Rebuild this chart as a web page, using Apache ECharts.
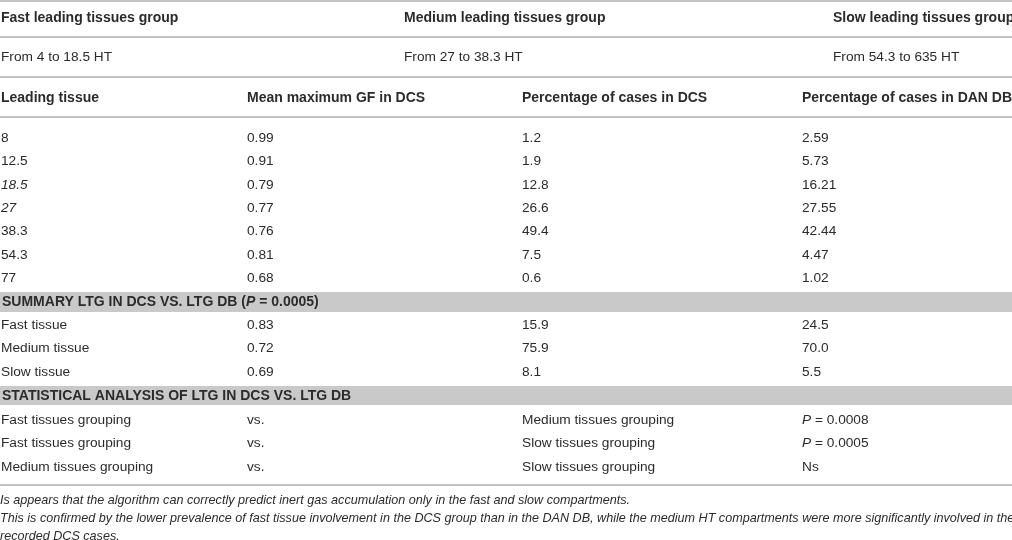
<!DOCTYPE html>
<html>
<head>
<meta charset="UTF-8">
<title>Leading tissues</title>
<style>
  html, body { margin: 0; padding: 0; background: #fff; }
  #main { width: 1012px; height: 540px; }
</style>
</head>
<body>
<div id="main"></div>
<script src="https://cdn.jsdelivr.net/npm/echarts@6/dist/echarts.min.js"></script>
<script>
// table content
var groupNames = ['Fast leading tissues group', 'Medium leading tissues group', 'Slow leading tissues group'];
var groupRanges = ['From 4 to 18.5 HT', 'From 27 to 38.3 HT', 'From 54.3 to 635 HT'];
var columnHeaders = ['Leading tissue', 'Mean maximum GF in DCS', 'Percentage of cases in DCS', 'Percentage of cases in DAN DB'];

var leadingTissues = ['8', '12.5', '18.5', '27', '38.3', '54.3', '77'];
var italicTissues = ['18.5', '27'];
var meanMaxGF = [0.99, 0.91, 0.79, 0.77, 0.76, 0.81, 0.68];
var pctDCS = [1.2, 1.9, 12.8, 26.6, 49.4, 7.5, 0.6];
var pctDANDB = [2.59, 5.73, 16.21, 27.55, 42.44, 4.47, 1.02];

var summaryTitle = 'SUMMARY LTG IN DCS VS. LTG DB ({bi|P} = 0.0005)';
var summaryTissues = ['Fast tissue', 'Medium tissue', 'Slow tissue'];
var summaryGF = [0.83, 0.72, 0.69];
var summaryDCS = [15.9, 75.9, 8.1];
var summaryDB = [24.5, 70.0, 5.5];

var statTitle = 'STATISTICAL ANALYSIS OF LTG IN DCS VS. LTG DB';
var statLeft = ['Fast tissues grouping', 'Fast tissues grouping', 'Medium tissues grouping'];
var statVs = ['vs.', 'vs.', 'vs.'];
var statRight = ['Medium tissues grouping', 'Slow tissues grouping', 'Slow tissues grouping'];
var statP = ['{i|P} = 0.0008', '{i|P} = 0.0005', 'Ns'];

var footnotes = [
    'Is appears that the algorithm can correctly predict inert gas accumulation only in the fast and slow compartments.',
    'This is confirmed by the lower prevalence of fast tissue involvement in the DCS group than in the DAN DB, while the medium HT compartments were more significantly involved in the',
    'recorded DCS cases.'
];

// layout (pixels of the 1012 x 540 canvas)
var W = 1012, H = 540;
var groupX = [1, 404, 833];
var colX = [1, 247, 522, 802];
var FONT = '"Liberation Sans", Arial, Helvetica, sans-serif';
var TEXT = '#2b2b2b';

var cells = [];   // [x, y, text, kind]
var rules = [1, 37, 77, 117, 485];
var bands = [[292, 312], [386, 405]];

groupNames.forEach(function (t, i) { cells.push([groupX[i], 18, t, 'bold']); });
groupRanges.forEach(function (t, i) { cells.push([groupX[i], 57, t, 'normal']); });
columnHeaders.forEach(function (t, i) { cells.push([colX[i], 98, t, 'bold']); });

leadingTissues.forEach(function (t, r) {
    var y = 138 + r * 23.4;
    cells.push([colX[0], y, t, italicTissues.indexOf(t) >= 0 ? 'italic' : 'normal']);
    cells.push([colX[1], y, meanMaxGF[r].toFixed(2), 'normal']);
    cells.push([colX[2], y, pctDCS[r].toFixed(1), 'normal']);
    cells.push([colX[3], y, pctDANDB[r].toFixed(2), 'normal']);
});

cells.push([2, 302, summaryTitle, 'bold']);
summaryTissues.forEach(function (t, r) {
    var y = 325 + r * 23.5;
    cells.push([colX[0], y, t, 'normal']);
    cells.push([colX[1], y, summaryGF[r].toFixed(2), 'normal']);
    cells.push([colX[2], y, summaryDCS[r].toFixed(1), 'normal']);
    cells.push([colX[3], y, summaryDB[r].toFixed(1), 'normal']);
});

cells.push([2, 396, statTitle, 'bold']);
statLeft.forEach(function (t, r) {
    var y = 420 + r * 23.5;
    cells.push([colX[0], y, t, 'normal']);
    cells.push([colX[1], y, statVs[r], 'normal']);
    cells.push([colX[2], y, statRight[r], 'normal']);
    cells.push([colX[3], y, statP[r], 'normal']);
});

footnotes.forEach(function (t, r) {
    cells.push([0, 500 + r * 18, t, 'note']);
});

var myChart = echarts.init(document.getElementById('main'));

var option = {
    animation: false,
    grid: { left: 0, right: 0, top: 0, bottom: 0 },
    xAxis: { type: 'value', min: 0, max: W, show: false },
    yAxis: { type: 'value', min: 0, max: H, inverse: true, show: false },
    series: [
        {
            type: 'custom',
            data: bands,
            renderItem: function (params, api) {
                var a = api.coord([0, api.value(0)]);
                var b = api.coord([W, api.value(1)]);
                return { type: 'rect', shape: { x: a[0], y: a[1], width: b[0] - a[0], height: b[1] - a[1] },
                    style: { fill: '#c9c9c9' } };
            }
        },
        {
            type: 'custom',
            data: rules,
            renderItem: function (params, api) {
                var a = api.coord([0, api.value(0)]);
                var b = api.coord([W, api.value(0)]);
                return { type: 'line', shape: { x1: a[0], y1: a[1], x2: b[0], y2: b[1] },
                    style: { stroke: '#c3c3c3', lineWidth: 2 } };
            }
        },
        {
            type: 'custom',
            data: cells,
            renderItem: function (params, api) {
                var c = cells[params.dataIndex];
                var p = api.coord([c[0], c[1]]);
                var kind = c[3];
                var size = kind === 'note' ? 12.6 : (kind === 'bold' ? 14 : 13.7);
                return {
                    type: 'text',
                    style: {
                        text: c[2],
                        x: p[0], y: p[1],
                        align: 'left', verticalAlign: 'middle',
                        fontFamily: FONT,
                        fontSize: size,
                        fontWeight: kind === 'bold' ? 'bold' : 'normal',
                        fontStyle: (kind === 'italic' || kind === 'note') ? 'italic' : 'normal',
                        fill: TEXT,
                        rich: {
                            i: { fontStyle: 'italic', fontFamily: FONT, fontSize: size, fill: TEXT },
                            bi: { fontStyle: 'italic', fontWeight: 'bold', fontFamily: FONT, fontSize: size, fill: TEXT }
                        }
                    }
                };
            }
        }
    ]
};

myChart.setOption(option);
</script>
</body>
</html>
